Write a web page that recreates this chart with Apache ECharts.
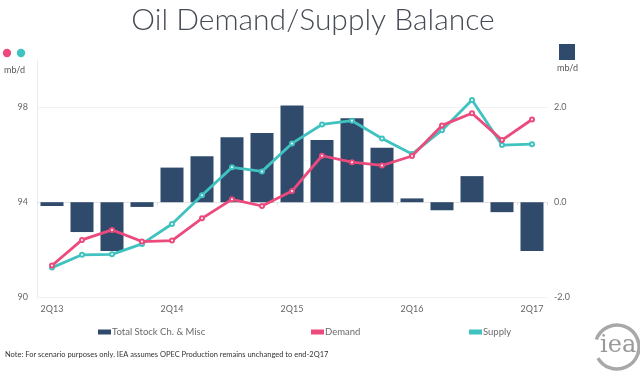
<!DOCTYPE html>
<html>
<head>
<meta charset="utf-8">
<script src="https://cdn.jsdelivr.net/npm/echarts@6/dist/echarts.min.js"></script>
<style>
html,body{margin:0;padding:0;background:#fff;}
#chart{width:640px;height:373px;}
</style>
</head>
<body>
<div id="chart"></div>
<script>
const categories = ['2Q13','3Q13','4Q13','1Q14','2Q14','3Q14','4Q14','1Q15','2Q15','3Q15','4Q15','1Q16','2Q16','3Q16','4Q16','1Q17','2Q17'];
const stockChange = [-0.08,-0.63,-1.03,-0.1,0.73,0.97,1.37,1.46,2.04,1.31,1.77,1.15,0.08,-0.17,0.55,-0.21,-1.03];
const demand = [91.33,92.41,92.83,92.34,92.38,93.32,94.12,93.84,94.47,95.96,95.69,95.55,95.95,97.24,97.75,96.62,97.49];
const supply = [91.24,91.78,91.8,92.24,93.08,94.29,95.47,95.3,96.48,97.28,97.44,96.69,96.03,97.04,98.31,96.41,96.45];
const seriesNames = ['Total Stock Ch. & Misc','Demand','Supply'];
const titleText = 'Oil Demand/Supply Balance';
const noteText = 'Note: For scenario purposes only. IEA assumes OPEC Production remains unchanged to end-2Q17';
const unitText = 'mb/d';

const C_BAR = '#2f4a6b', C_DEM = '#ec4a7d', C_SUP = '#3fc2c0';
const FONT = 'Lato, "Open Sans", sans-serif';
const chart = echarts.init(document.getElementById('chart'), null, {renderer:'canvas'});

const legendBase = {
  orient:'horizontal', top: 322, itemWidth: 13, itemHeight: 5, itemGap: 0, icon: 'rect',
  textStyle:{color:'#6a6a6a', fontSize:9.5, fontFamily:FONT, padding:[0,0,0,-4]}
};

chart.setOption({
  animation:false,
  backgroundColor:'#fff',
  title:{text:titleText, left:308, textAlign:'center', top:0,
    textStyle:{fontFamily:FONT, fontWeight:300, fontSize:30, color:'#454a55'}},
  grid:{left:37, right:93, top:60, bottom:76, containLabel:false},
  legend:[
    Object.assign({}, legendBase, {left:93, data:[seriesNames[0]]}),
    Object.assign({}, legendBase, {left:306, data:[seriesNames[1]]}),
    Object.assign({}, legendBase, {left:464, data:[seriesNames[2]]})
  ],
  xAxis:{type:'category', data:categories, boundaryGap:true,
    axisLine:{show:true, lineStyle:{color:'#e6e6e6'}},
    axisTick:{show:true, length:3, lineStyle:{color:'#e0e0e0'}},
    axisLabel:{interval:3, color:'#666', fontSize:9, fontFamily:FONT, margin:8}},
  yAxis:[
    {type:'value', min:90, max:100, interval:4, position:'left',
      axisLine:{show:true, lineStyle:{color:'#ececec'}},
      axisTick:{show:false},
      axisLabel:{showMaxLabel:false, color:'#666', fontSize:9, fontFamily:FONT, margin:9},
      splitLine:{show:true, lineStyle:{color:['#f2f2f2','#f2f2f2','#f2f2f2','rgba(0,0,0,0)']}}},
    {type:'value', min:-2, max:3, interval:2, position:'right',
      axisLine:{show:false}, axisTick:{show:false},
      axisLabel:{showMaxLabel:false, color:'#666', fontSize:9, fontFamily:FONT, margin:7,
        formatter:v=>v.toFixed(1)},
      splitLine:{show:false}}
  ],
  series:[
    {name:seriesNames[0], type:'bar', yAxisIndex:1, data:stockChange, barWidth:23,
      itemStyle:{color:C_BAR}, z:1},
    {name:seriesNames[1], type:'line', yAxisIndex:0, data:demand,
      symbol:'emptyCircle', symbolSize:4, showSymbol:true,
      lineStyle:{color:C_DEM, width:2.8}, itemStyle:{color:C_DEM, borderWidth:1.3}, z:3},
    {name:seriesNames[2], type:'line', yAxisIndex:0, data:supply,
      symbol:'emptyCircle', symbolSize:4, showSymbol:true,
      lineStyle:{color:C_SUP, width:2.8}, itemStyle:{color:C_SUP, borderWidth:1.3}, z:2}
  ],
  graphic:[
    {type:'circle', shape:{cx:7, cy:53, r:4.2}, style:{fill:C_DEM}},
    {type:'circle', shape:{cx:21, cy:53, r:4.2}, style:{fill:C_SUP}},
    {type:'text', left:4, top:66, style:{text:unitText, fill:'#555', font:'9px '+FONT}},
    {type:'rect', shape:{x:559, y:44, width:16, height:16}, style:{fill:C_BAR}},
    {type:'text', left:557, top:64, style:{text:unitText, fill:'#555', font:'9px '+FONT}},
    {type:'text', left:5, top:351, style:{text:noteText, fill:'#333', font:'7.5px '+FONT}},
    {type:'arc', shape:{cx:617, cy:347, r:22, startAngle:200*Math.PI/180, endAngle:150*Math.PI/180, clockwise:true},
      style:{stroke:'#a8a8a8', lineWidth:3.5, fill:null}},
    {type:'text', left:600, top:334, style:{text:'iea', fill:'#9a9a9a', font:'24px "DejaVu Serif", serif'}}
  ]
});
</script>
</body>
</html>
